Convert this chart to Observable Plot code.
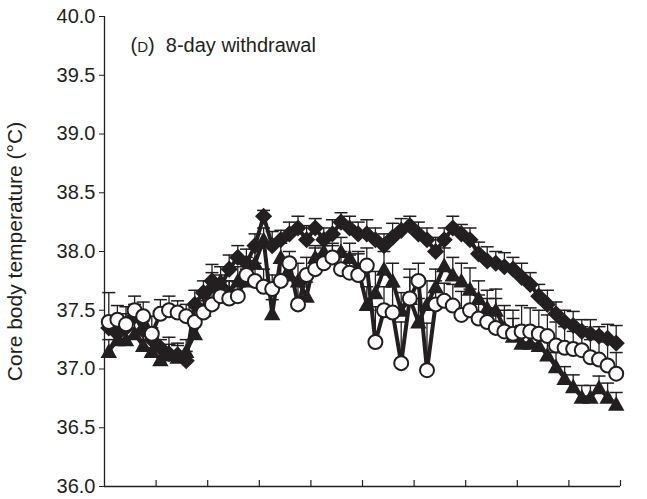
<!DOCTYPE html>
<html>
<head>
<meta charset="utf-8">
<script src="https://cdn.jsdelivr.net/npm/d3@7"></script>
<script src="https://cdn.jsdelivr.net/npm/@observablehq/plot@0.6"></script>
<style>
  html, body { margin: 0; padding: 0; background: #fff; }
  #chart svg { display: block; }
</style>
</head>
<body>
<div id="chart"></div>
<script>
// Sampling times (minutes), one reading every 10 min
const minutes = [5, 15, 25, 35, 45, 55, 65, 75, 85, 95,
  105, 115, 125, 135, 145, 155, 165, 175, 185, 195,
  205, 215, 225, 235, 245, 255, 265, 275, 285, 295,
  305, 315, 325, 335, 345, 355, 365, 375, 385, 395,
  405, 415, 425, 435, 445, 455, 465, 475, 485, 495,
  505, 515, 525, 535, 545, 555, 565, 575, 585, 595];

// Group shown with filled diamonds: mean and upper error (°C)
const diamondMean = [37.35, 37.30, 37.35, 37.45, 37.33, 37.25, 37.18, 37.13, 37.12, 37.07,
  37.55, 37.65, 37.75, 37.70, 37.85, 37.95, 37.90, 38.05, 38.30, 38.05,
  38.10, 38.15, 38.20, 38.10, 38.20, 38.10, 38.15, 38.25, 38.20, 38.15,
  38.15, 38.10, 38.05, 38.12, 38.18, 38.22, 38.15, 38.10, 38.00, 38.10,
  38.20, 38.15, 38.10, 37.98, 37.92, 37.90, 37.87, 37.85, 37.78, 37.72,
  37.62, 37.55, 37.47, 37.40, 37.37, 37.32, 37.30, 37.28, 37.26, 37.22];
const diamondErr = [0.08, 0.10, 0.12, 0.10, 0.08, 0.10, 0.07, 0.08, 0.10, 0.08,
  0.12, 0.10, 0.14, 0.10, 0.12, 0.10, 0.12, 0.10, 0.05, 0.12,
  0.08, 0.10, 0.10, 0.12, 0.08, 0.10, 0.12, 0.08, 0.10, 0.10,
  0.12, 0.10, 0.10, 0.12, 0.10, 0.08, 0.10, 0.10, 0.12, 0.10,
  0.10, 0.08, 0.10, 0.10, 0.12, 0.10, 0.12, 0.10, 0.12, 0.10,
  0.10, 0.12, 0.10, 0.10, 0.12, 0.10, 0.12, 0.08, 0.12, 0.15];

// Group shown with open circles
const circleMean = [37.40, 37.42, 37.38, 37.50, 37.45, 37.30, 37.47, 37.50, 37.48, 37.45,
  37.40, 37.48, 37.55, 37.62, 37.60, 37.62, 37.80, 37.75, 37.70, 37.68,
  37.75, 37.90, 37.55, 37.80, 37.85, 37.90, 37.95, 37.85, 37.82, 37.80,
  37.88, 37.23, 37.50, 37.48, 37.05, 37.60, 37.75, 36.99, 37.55, 37.58,
  37.54, 37.46, 37.50, 37.43, 37.40, 37.35, 37.32, 37.30, 37.32, 37.32,
  37.30, 37.28, 37.20, 37.18, 37.17, 37.16, 37.10, 37.08, 37.03, 36.96];
const circleErr = [0.25, 0.12, 0.15, 0.12, 0.12, 0.15, 0.12, 0.12, 0.10, 0.10,
  0.12, 0.10, 0.15, 0.12, 0.15, 0.12, 0.15, 0.15, 0.15, 0.12,
  0.15, 0.10, 0.20, 0.15, 0.18, 0.15, 0.12, 0.15, 0.15, 0.18,
  0.15, 0.30, 0.20, 0.22, 0.35, 0.25, 0.15, 0.40, 0.20, 0.15,
  0.18, 0.20, 0.18, 0.20, 0.20, 0.25, 0.22, 0.20, 0.22, 0.20,
  0.20, 0.18, 0.20, 0.18, 0.15, 0.20, 0.15, 0.18, 0.20, 0.18];

// Group shown with filled triangles
const triangleMean = [37.15, 37.25, 37.25, 37.30, 37.20, 37.15, 37.08, 37.12, 37.10, 37.15,
  37.30, 37.50, 37.70, 37.75, 37.65, 37.75, 37.75, 37.90, 38.10, 37.47,
  37.95, 37.80, 37.75, 37.62, 37.95, 38.00, 37.95, 38.00, 37.95, 37.85,
  37.55, 37.65, 37.85, 37.75, 37.50, 37.60, 37.40, 37.55, 37.70, 37.88,
  37.80, 37.75, 37.68, 37.60, 37.52, 37.50, 37.35, 37.28, 37.22, 37.22,
  37.20, 37.12, 37.02, 36.92, 36.85, 36.76, 36.76, 36.84, 36.76, 36.70];
const triangleErr = [0.10, 0.12, 0.10, 0.12, 0.10, 0.12, 0.10, 0.15, 0.10, 0.10,
  0.12, 0.10, 0.12, 0.12, 0.10, 0.12, 0.10, 0.12, 0.10, 0.12,
  0.12, 0.12, 0.15, 0.12, 0.10, 0.12, 0.10, 0.12, 0.12, 0.15,
  0.15, 0.18, 0.15, 0.15, 0.15, 0.18, 0.20, 0.20, 0.15, 0.15,
  0.15, 0.15, 0.18, 0.15, 0.15, 0.18, 0.15, 0.15, 0.15, 0.12,
  0.12, 0.12, 0.12, 0.10, 0.10, 0.10, 0.10, 0.10, 0.12, 0.10];

const yTicks = [36.0, 36.5, 37.0, 37.5, 38.0, 38.5, 39.0, 39.5, 40.0];
const xTicks = [60, 120, 180, 240, 300, 360, 420, 480, 540, 600];
const panelTitle = "(D) \u00a08-day withdrawal";
const yLabel = "Core body temperature (°C)";

const ink = "#231f20";
const W = 647, H = 499;
const margin = {top: 16, right: 27, bottom: 13, left: 104};

const rowsOf = (name, mean, err) =>
  minutes.map((t, i) => ({series: name, t, v: mean[i], hi: mean[i] + err[i]}));
const diamonds = rowsOf("diamond", diamondMean, diamondErr);
const circles = rowsOf("circle", circleMean, circleErr);
const triangles = rowsOf("triangle", triangleMean, triangleErr);
const all = [...triangles, ...diamonds, ...circles];

// Marker shapes; r is the half-width in pixels (size = π r²)
const half = size => Math.sqrt(size / Math.PI);
const diamondSymbol = {draw(ctx, size) {
  const r = half(size);
  ctx.moveTo(0, -r); ctx.lineTo(r, 0); ctx.lineTo(0, r); ctx.lineTo(-r, 0); ctx.closePath();
}};
const triangleSymbol = {draw(ctx, size) {
  const r = half(size);
  ctx.moveTo(0, -r); ctx.lineTo(r, r * 0.8); ctx.lineTo(-r, r * 0.8); ctx.closePath();
}};
const capSymbol = {draw(ctx, size) {
  const r = half(size);
  ctx.moveTo(-r, 0); ctx.lineTo(r, 0);
}};

const frameH = H - margin.top - margin.bottom;

const chart = Plot.plot({
  width: W,
  height: H,
  marginTop: margin.top,
  marginRight: margin.right,
  marginBottom: margin.bottom,
  marginLeft: margin.left,
  style: {fontFamily: "'Liberation Sans', Arial, Helvetica, sans-serif", fontSize: "20px", color: ink, background: "#fff"},
  x: {domain: [0, 600], axis: null},
  y: {domain: [36, 40]},
  marks: [
    Plot.axisY({
      ticks: yTicks, tickFormat: d3.format(".1f"), tickSize: 5, tickPadding: 4,
      label: null, stroke: ink, fill: ink
    }),
    Plot.axisY({
      ticks: [], label: yLabel, labelAnchor: "center", labelArrow: "none", labelOffset: 97,
      fontSize: 21, fill: ink
    }),
    // inward x ticks
    Plot.ruleX(xTicks, {stroke: ink, strokeWidth: 1.2, insetTop: frameH - 6}),
    // axis lines
    Plot.ruleX([0], {stroke: ink, strokeWidth: 1.3}),
    Plot.ruleY([36], {stroke: ink, strokeWidth: 1.3}),
    // upper error bars with caps
    Plot.ruleX(all, {x: "t", y1: "v", y2: "hi", stroke: ink, strokeWidth: 1.3}),
    Plot.dot(all, {x: "t", y: "hi", symbol: capSymbol, r: 6.5, stroke: ink, strokeWidth: 1.5, fill: "none"}),
    // series lines
    Plot.line(triangles, {x: "t", y: "v", stroke: ink, strokeWidth: 4, strokeLinejoin: "miter"}),
    Plot.line(diamonds, {x: "t", y: "v", stroke: ink, strokeWidth: 4, strokeLinejoin: "miter"}),
    Plot.line(circles, {x: "t", y: "v", stroke: ink, strokeWidth: 4, strokeLinejoin: "miter"}),
    // markers
    Plot.dot(triangles, {x: "t", y: "v", symbol: triangleSymbol, r: 8.2, fill: ink, stroke: "none"}),
    Plot.dot(diamonds, {x: "t", y: "v", symbol: diamondSymbol, r: 8.6, fill: ink, stroke: "none"}),
    Plot.dot(circles, {x: "t", y: "v", r: 7, fill: "#fff", stroke: ink, strokeWidth: 2}),
    // panel title
    Plot.text([panelTitle], {frameAnchor: "top-left", dx: 26, dy: 21, textAnchor: "start", fill: ink, fontSize: 20})
  ]
});

// set the panel letter in small capitals
d3.select(chart).selectAll("text")
  .filter(function() { return this.textContent === panelTitle; })
  .each(function() {
    const t = d3.select(this);
    t.text(null);
    t.append("tspan").text("(");
    t.append("tspan").attr("font-size", 15).text("D");
    t.append("tspan").text(") \u00a08-day withdrawal");
  });

document.getElementById("chart").appendChild(chart);
</script>
</body>
</html>
